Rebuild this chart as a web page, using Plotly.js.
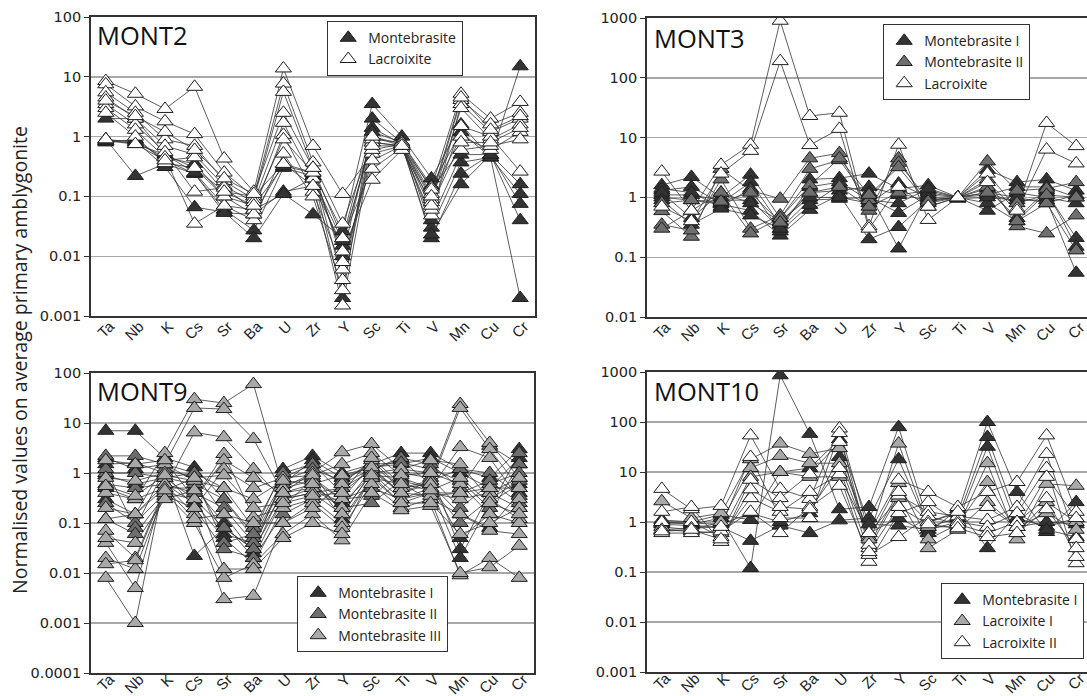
<!DOCTYPE html>
<html>
<head>
<meta charset="utf-8">
<script src="https://cdn.plot.ly/plotly-3.0.1.min.js"></script>
<style>html,body{margin:0;padding:0;background:#fff}#chart{width:1087px;height:696px}</style>
</head>
<body>
<div id="chart"></div>
<script>
// Categories (elements)
const elements = ['Ta','Nb','K','Cs','Sr','Ba','U','Zr','Y','Sc','Ti','V','Mn','Cu','Cr'];

// ---- MONT2 ----
const mont2_montebrasite = [
  [2.0, 2.0, 0.5, 0.3, 0.12, 0.1, 0.35, 0.25, 0.026, 3.5, 1.0, 0.2, 1.6, 0.45, 15],
  [0.9, 0.22, 0.35, 0.24, 0.06, 0.027, 0.3, 0.22, 0.002, 2.0, 0.8, 0.03, 0.37, 0.45, 0.002],
  [0.85, 0.85, 0.31, 0.066, 0.055, 0.02, 0.11, 0.05, 0.02, 1.4, 0.75, 0.02, 0.24, 0.5, 0.04],
  [0.8, 0.9, 0.4, 0.24, 0.053, 0.05, 0.12, 0.15, 0.015, 1.0, 0.7, 0.023, 0.16, 0.5, 0.075],
  [0.9, 0.8, 0.45, 0.35, 0.1, 0.07, 0.32, 0.25, 0.01, 1.2, 0.8, 0.15, 1.2, 0.45, 0.11],
  [0.85, 0.75, 0.5, 0.25, 0.07, 0.06, 0.11, 0.2, 0.018, 0.8, 0.7, 0.04, 0.5, 0.5, 0.16]
];
const mont2_lacroixite = [
  [8.5, 5.2, 2.9, 6.8, 0.43, 0.12, 13.8, 0.7, 0.11, 0.52, 0.7, 0.14, 5.2, 2.0, 3.8],
  [7.5, 3.2, 1.8, 1.1, 0.25, 0.1, 7.7, 0.37, 0.035, 0.8, 0.7, 0.09, 4.1, 1.6, 2.5],
  [5.5, 2.5, 0.9, 0.7, 0.18, 0.09, 5.6, 0.3, 0.02, 0.29, 0.65, 0.048, 3.5, 1.2, 2.0],
  [4.5, 2.0, 0.7, 0.5, 0.15, 0.08, 1.7, 0.2, 0.012, 0.19, 0.6, 0.08, 3.0, 0.9, 1.6],
  [3.5, 1.6, 0.55, 0.12, 0.14, 0.06, 1.07, 0.12, 0.006, 0.6, 0.75, 0.11, 1.0, 0.6, 1.2],
  [3.0, 1.3, 0.45, 0.035, 0.07, 0.04, 0.52, 0.1, 0.0027, 0.9, 0.8, 0.13, 0.6, 0.7, 0.9],
  [2.5, 1.0, 0.36, 0.3, 0.1, 0.05, 0.35, 0.15, 0.0015, 0.7, 0.7, 0.06, 1.5, 1.0, 0.26],
  [0.9, 0.75, 0.4, 0.45, 0.12, 0.07, 0.9, 0.25, 0.004, 1.0, 0.75, 0.07, 0.8, 0.8, 1.4],
  [4.0, 2.2, 1.2, 0.6, 0.2, 0.11, 2.5, 0.3, 0.008, 0.4, 0.7, 0.1, 4.5, 1.3, 2.2]
];

// ---- MONT3 ----
const mont3_montebrasite1 = [
  [1.6, 2.2, 1.0, 2.4, 0.45, 2.0, 2.1, 2.5, 1.4, 1.6, 1.0, 2.9, 1.8, 2.0, 1.3],
  [1.3, 1.5, 0.8, 1.8, 0.35, 1.2, 1.3, 1.5, 1.1, 1.3, 1.0, 1.1, 1.5, 1.5, 1.0],
  [1.1, 1.1, 0.9, 0.9, 0.3, 0.9, 0.95, 1.0, 0.55, 1.1, 1.0, 0.6, 1.2, 1.0, 0.8],
  [1.0, 0.9, 0.77, 0.6, 0.23, 0.62, 1.1, 0.2, 0.32, 0.9, 1.0, 0.8, 0.4, 1.2, 0.21],
  [1.4, 1.2, 0.7, 1.4, 0.27, 0.75, 1.6, 1.2, 0.14, 1.2, 1.0, 1.4, 0.45, 1.3, 0.15],
  [1.2, 0.45, 1.2, 0.8, 0.4, 1.0, 1.0, 0.8, 1.7, 1.0, 0.95, 1.0, 0.9, 0.9, 0.055],
  [0.9, 0.35, 0.65, 0.5, 0.3, 1.5, 1.8, 0.9, 0.8, 1.4, 1.0, 1.2, 1.0, 0.8, 1.1]
];
const mont3_montebrasite2 = [
  [0.59, 0.22, 3.0, 1.3, 0.95, 4.5, 5.5, 0.6, 4.5, 0.7, 1.0, 4.0, 1.3, 1.4, 1.8],
  [0.35, 0.28, 2.0, 0.3, 0.5, 3.0, 4.2, 0.9, 3.8, 0.9, 1.0, 2.0, 0.33, 0.25, 0.5],
  [0.3, 0.6, 1.2, 0.25, 0.45, 1.6, 4.5, 1.1, 3.2, 0.8, 1.0, 1.5, 0.4, 0.8, 0.13],
  [0.8, 0.9, 0.85, 1.2, 0.38, 1.2, 1.5, 0.7, 1.2, 0.85, 1.0, 1.2, 0.8, 1.1, 1.0]
];
const mont3_lacroixite = [
  [2.7, 0.6, 3.5, 7.6, 900, 23, 26, 0.33, 7.6, 0.42, 1.0, 2.5, 0.65, 17.6, 7.2],
  [0.7, 0.4, 2.5, 6.0, 190, 7.5, 14, 0.3, 1.5, 0.7, 1.0, 1.8, 0.6, 6.3, 3.7]
];

// ---- MONT9 ----
const mont9_montebrasite1 = [
  [7, 7, 2.0, 1.3, 0.3, 0.06, 1.2, 2.2, 1.0, 1.5, 2.5, 2.5, 1.2, 0.8, 3.0],
  [1.5, 1.6, 1.0, 0.022, 0.08, 0.03, 0.8, 1.5, 0.4, 1.2, 1.8, 0.6, 0.05, 0.15, 1.5],
  [0.9, 0.6, 0.8, 1.0, 0.15, 0.025, 0.5, 1.0, 0.15, 1.0, 1.2, 1.0, 0.03, 0.4, 0.8],
  [0.5, 0.3, 0.5, 0.5, 0.1, 0.02, 0.3, 0.5, 0.25, 0.9, 0.8, 0.5, 0.02, 0.25, 0.6],
  [2.0, 1.2, 1.5, 0.7, 0.06, 0.04, 0.6, 1.8, 0.8, 1.3, 1.5, 2.0, 1.0, 0.5, 2.0],
  [0.3, 0.15, 0.6, 0.25, 0.05, 0.015, 0.2, 0.8, 0.12, 0.8, 0.6, 0.3, 0.15, 0.08, 0.4]
];
const mont9_montebrasite2 = [
  [2.2, 2.2, 1.5, 1.0, 0.5, 0.08, 1.0, 1.5, 0.6, 1.2, 2.0, 1.5, 0.5, 3.5, 1.5],
  [1.0, 1.0, 0.8, 0.6, 0.3, 0.05, 0.6, 0.8, 0.3, 0.35, 1.0, 0.8, 0.2, 0.6, 1.0],
  [0.6, 0.5, 0.6, 0.4, 0.2, 0.04, 0.4, 0.6, 0.2, 0.25, 0.7, 0.5, 0.1, 0.3, 0.7],
  [0.25, 0.1, 0.4, 0.3, 0.08, 0.03, 0.3, 0.4, 0.5, 1.1, 0.4, 0.7, 1.2, 1.0, 0.35],
  [1.2, 0.08, 1.2, 0.8, 0.04, 0.06, 0.7, 1.2, 0.7, 1.5, 1.6, 1.2, 0.7, 0.2, 2.5],
  [0.12, 0.06, 0.35, 0.2, 0.03, 0.02, 0.15, 0.3, 0.3, 0.5, 0.3, 0.4, 0.4, 0.7, 0.25]
];
const mont9_montebrasite3 = [
  [0.4, 0.3, 2.5, 30, 25, 60, 0.5, 0.7, 0.3, 1.5, 0.5, 0.7, 24, 4, 0.8],
  [0.2, 0.15, 1.5, 20, 19, 4.8, 0.4, 0.5, 0.2, 1.2, 0.4, 0.6, 20, 3, 0.5],
  [0.07, 0.02, 0.5, 6.5, 5.2, 1.2, 0.3, 0.4, 0.15, 1.0, 0.3, 0.5, 3.3, 2, 0.3],
  [0.008, 0.001, 0.8, 0.3, 2.4, 0.13, 0.2, 0.3, 0.1, 0.8, 0.25, 0.4, 0.3, 0.4, 0.2],
  [0.04, 0.005, 0.6, 0.15, 0.003, 0.0035, 0.1, 0.25, 0.08, 0.6, 0.2, 0.3, 0.009, 0.02, 0.008],
  [0.02, 0.012, 0.4, 0.1, 0.008, 0.015, 0.06, 0.15, 0.045, 0.4, 0.18, 0.22, 0.01, 0.013, 0.035],
  [1.8, 1.5, 1.8, 0.3, 1.8, 0.8, 0.4, 1.0, 2.6, 3.8, 1.2, 1.8, 1.5, 0.3, 0.12],
  [0.8, 0.7, 1.0, 0.2, 1.2, 0.5, 0.8, 0.9, 1.5, 2.5, 0.9, 1.0, 0.6, 0.15, 0.1],
  [0.12, 0.15, 0.5, 0.12, 0.15, 0.1, 0.1, 0.2, 0.6, 1.8, 0.5, 0.6, 0.15, 0.07, 0.06],
  [0.55, 0.35, 0.9, 0.7, 0.5, 0.3, 0.7, 0.6, 0.9, 1.3, 0.4, 0.35, 0.4, 0.5, 0.5],
  [0.05, 0.04, 0.3, 0.45, 0.012, 0.012, 0.05, 0.1, 0.06, 0.9, 0.25, 0.25, 0.06, 0.1, 0.2],
  [0.015, 0.018, 0.45, 0.8, 0.9, 0.2, 0.25, 0.35, 0.4, 2.0, 0.6, 0.45, 0.8, 0.25, 0.15]
];

// ---- MONT10 ----
const mont10_montebrasite1 = [
  [1.0, 0.9, 1.2, 0.12, 860, 58, 1.8, 2.0, 79, 1.0, 1.5, 100, 4.0, 0.63, 2.5],
  [0.9, 0.85, 0.8, 0.42, 0.85, 0.6, 1.08, 1.2, 18, 0.8, 1.2, 50, 1.2, 0.8, 1.2],
  [1.1, 1.0, 1.4, 1.1, 10, 12, 45, 0.9, 0.85, 0.7, 1.0, 32, 0.8, 1.0, 0.9],
  [0.95, 0.95, 0.9, 1.5, 1.0, 1.5, 20, 0.6, 1.2, 0.6, 1.8, 0.3, 1.5, 0.7, 0.5]
];
const mont10_lacroixite1 = [
  [2.6, 1.2, 1.5, 18, 37, 23, 30, 0.5, 37, 0.8, 0.8, 15, 0.45, 5.8, 5.3],
  [0.8, 0.7, 1.0, 12, 21, 15, 15, 0.45, 6, 0.45, 0.9, 6.3, 0.6, 2.5, 1.0],
  [0.7, 0.65, 0.6, 8, 10, 8, 8, 0.6, 3, 0.3, 0.7, 2.5, 0.8, 1.5, 0.7]
];
const mont10_lacroixite2 = [
  [4.6, 1.8, 2.1, 54, 4.6, 2.9, 74, 0.6, 7, 4.0, 2.0, 4.0, 6.3, 54, 1.6],
  [1.6, 2.0, 0.4, 7, 3, 9, 40, 0.3, 3.4, 1.6, 1.3, 1.1, 2.0, 23, 0.46],
  [1.0, 1.0, 0.5, 3, 1.6, 4, 9, 0.16, 1.5, 2.5, 1.0, 0.8, 1.5, 12, 0.15],
  [0.6, 0.6, 0.65, 1.6, 0.6, 2.0, 5.3, 0.22, 0.5, 1.3, 0.9, 0.6, 1.0, 3, 0.2],
  [0.7, 0.75, 0.8, 20, 1.2, 1.2, 60, 0.35, 4, 1.0, 1.6, 2.0, 0.8, 8, 1.2],
  [0.65, 0.7, 0.45, 4.5, 2.0, 1.8, 12, 0.25, 2.0, 0.9, 0.75, 0.5, 0.6, 1.8, 0.3]
];

const DARK = '#333333', MID = '#6e6e6e', LIGHT = '#a9a9a9', WHITE = '#ffffff';
const W = 1087, H = 696;

function flatten(samples) {
  const x = [], y = [];
  samples.forEach(s => {
    elements.forEach((e, i) => { x.push(e); y.push(s[i]); });
    x.push(null); y.push(null);
  });
  return {x, y};
}

const traces = [];
function panel(groups, xa, ya, legendId) {
  groups.forEach(g => {
    const d = flatten(g.data);
    traces.push({type: 'scatter', mode: 'lines', x: d.x, y: d.y, xaxis: xa, yaxis: ya,
      line: {color: '#333', width: 0.8}, showlegend: false, hoverinfo: 'skip', connectgaps: false});
  });
  groups.forEach(g => {
    const d = flatten(g.data);
    traces.push({type: 'scatter', mode: 'markers', name: g.name, x: d.x, y: d.y, xaxis: xa, yaxis: ya,
      legend: legendId,
      marker: {symbol: 'triangle-up', size: 14, color: g.color, line: {color: '#1e1e1e', width: 1}},
      showlegend: true});
  });
}

panel([
  {name: 'Montebrasite', data: mont2_montebrasite, color: DARK},
  {name: 'Lacroixite', data: mont2_lacroixite, color: WHITE}
], 'x', 'y', 'legend');
panel([
  {name: 'Montebrasite I', data: mont3_montebrasite1, color: DARK},
  {name: 'Montebrasite II', data: mont3_montebrasite2, color: MID},
  {name: 'Lacroixite', data: mont3_lacroixite, color: WHITE}
], 'x2', 'y2', 'legend2');
panel([
  {name: 'Montebrasite I', data: mont9_montebrasite1, color: DARK},
  {name: 'Montebrasite II', data: mont9_montebrasite2, color: MID},
  {name: 'Montebrasite III', data: mont9_montebrasite3, color: LIGHT}
], 'x3', 'y3', 'legend3');
panel([
  {name: 'Montebrasite I', data: mont10_montebrasite1, color: DARK},
  {name: 'Lacroixite I', data: mont10_lacroixite1, color: LIGHT},
  {name: 'Lacroixite II', data: mont10_lacroixite2, color: WHITE}
], 'x4', 'y4', 'legend4');

function px(v) { return v / W; }
function py(v) { return 1 - v / H; }

function xaxis(domain, range, standoff) {
  return {domain: domain, range: range, type: 'category', showgrid: false, zeroline: false,
    showline: true, mirror: true, linecolor: '#333', linewidth: 1.8,
    ticks: '', tickangle: -45, ticklabelshift: 4, ticklabelstandoff: standoff,
    tickfont: {family: 'Liberation Sans, Arial, sans-serif', size: 15, color: '#222'},
    fixedrange: true};
}
function yaxis(domain, lo, hi, mirror, anchor) {
  const vals = [], txt = [];
  for (let e = lo; e <= hi; e++) { vals.push(Math.pow(10, e)); txt.push(e >= 0 ? String(Math.pow(10, e)) : Math.pow(10, e).toFixed(-e)); }
  return {domain: domain, type: 'log', range: [lo, hi], anchor: anchor,
    tickvals: vals, ticktext: txt, showgrid: true, gridcolor: '#a8a8a8', gridwidth: 1.4,
    zeroline: false, showline: true, mirror: mirror, linecolor: '#333', linewidth: 1.8,
    ticks: 'outside', ticklen: 5, tickcolor: '#333', tickwidth: 1,
    tickfont: {family: 'DejaVu Sans, sans-serif', size: 14.5, color: '#222'}, fixedrange: true};
}

const rightRangeEnd = 14.5 - 4 / 29.6;

function legendBox(x, y) {
  return {x: x, y: y, xanchor: 'left', yanchor: 'top', xref: 'paper', yref: 'paper',
    bgcolor: '#fff', bordercolor: '#333', borderwidth: 1.2,
    font: {family: 'Open Sans, sans-serif', size: 14, color: '#222'},
    tracegroupgap: 0, itemsizing: 'trace', traceorder: 'normal'};
}

const titleFont = {family: 'Open Sans, sans-serif', size: 25.5, color: '#111'};

const layout = {
  width: W, height: H, margin: {l: 0, r: 0, t: 0, b: 0},
  paper_bgcolor: '#fff', plot_bgcolor: '#fff', showlegend: true,
  xaxis: xaxis([px(91), px(535)], [-0.5, 14.5], -6),
  yaxis: yaxis([py(316), py(17)], -3, 2, true, 'x'),
  xaxis2: Object.assign(xaxis([px(647), 1], [-0.5, rightRangeEnd], -6), {anchor: 'y2'}),
  yaxis2: yaxis([py(317), py(18)], -2, 3, false, 'x2'),
  xaxis3: Object.assign(xaxis([px(91), px(534)], [-0.5, 14.5], -10), {anchor: 'y3'}),
  yaxis3: yaxis([py(673), py(373)], -4, 2, true, 'x3'),
  xaxis4: Object.assign(xaxis([px(647), 1], [-0.5, rightRangeEnd], -10), {anchor: 'y4'}),
  yaxis4: yaxis([py(672), py(372)], -3, 3, false, 'x4'),
  legend: legendBox(px(327), py(21)),
  legend2: legendBox(px(883), py(24)),
  legend3: legendBox(px(297), py(576)),
  legend4: legendBox(px(941), py(583)),
  annotations: [
    {text: 'MONT2', xref: 'paper', yref: 'paper', x: px(95), y: py(35), xanchor: 'left', yanchor: 'middle', showarrow: false, font: titleFont},
    {text: 'MONT3', xref: 'paper', yref: 'paper', x: px(652), y: py(38), xanchor: 'left', yanchor: 'middle', showarrow: false, font: titleFont},
    {text: 'MONT9', xref: 'paper', yref: 'paper', x: px(95), y: py(391), xanchor: 'left', yanchor: 'middle', showarrow: false, font: titleFont},
    {text: 'MONT10', xref: 'paper', yref: 'paper', x: px(652), y: py(391), xanchor: 'left', yanchor: 'middle', showarrow: false, font: titleFont},
    {text: 'Normalised values on average primary amblygonite', xref: 'paper', yref: 'paper',
      x: px(19), y: py(360), xanchor: 'center', yanchor: 'middle', textangle: -90, showarrow: false,
      font: {family: 'Open Sans, sans-serif', size: 19.5, color: '#222'}}
  ]
};

Plotly.newPlot('chart', traces, layout, {staticPlot: true, displayModeBar: false});
</script>
</body>
</html>
